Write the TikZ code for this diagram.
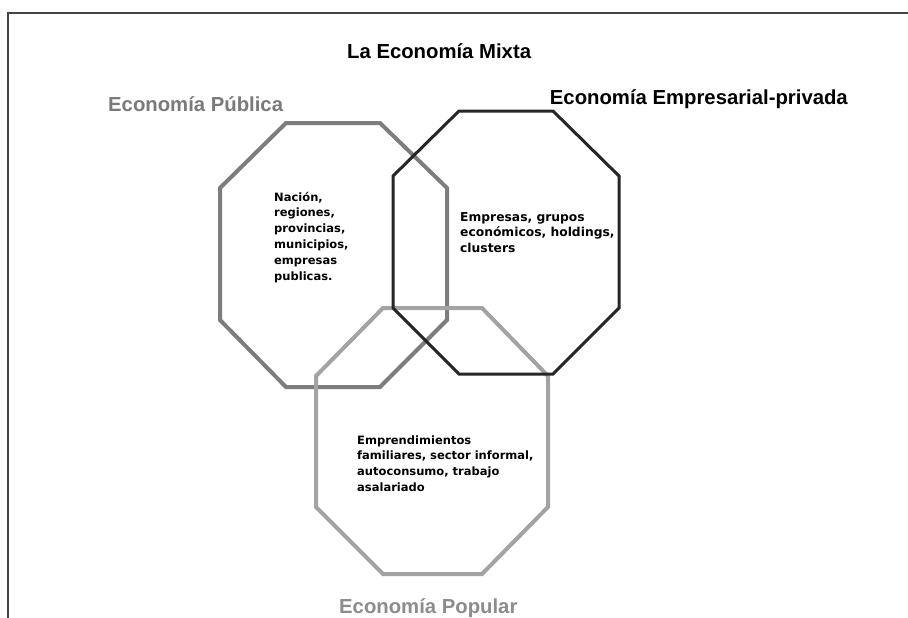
\documentclass[tikz,border=0pt]{standalone}
\usepackage{fontspec}
\setmainfont{Liberation Sans}
\newfontfamily\bodyfont{DejaVu Sans}
\definecolor{framec}{HTML}{444444}
\definecolor{pubc}{HTML}{7D7D7D}
\definecolor{popc}{HTML}{A3A3A3}
\definecolor{privc}{HTML}{262626}
\definecolor{pubtxt}{HTML}{7A7A7A}
\definecolor{poptxt}{HTML}{8C8C8C}
\tikzset{
  octpub/.style={draw=pubc, line width=4pt, line join=miter},
  octpop/.style={draw=popc, line width=4pt, line join=miter},
  octpriv/.style={draw=privc, line width=3pt, line join=miter},
  titletxt/.style={inner sep=0pt, font=\fontsize{20.3}{24}\selectfont\bfseries},
  bodytxt/.style={inner sep=0pt, anchor=base west},
}
\newcommand\bodyblock[2]{\parbox[t]{9cm}{\bodyfont\bfseries\fontsize{#1}{15.8}\selectfont\raggedright #2}}
\begin{document}
\begin{tikzpicture}[x=1pt,y=-1pt]
\useasboundingbox (0,0) rectangle (908,618);
\fill[white] (0,0) rectangle (908,618);
% frame
\coordinate (fbl) at (8,618);
\coordinate (ftl) at (8,13);
\coordinate (ftr) at (908,13);
\draw[framec, line width=2pt] (fbl) -- (ftl) -- (ftr);
% octagons
\draw[octpub] (286,123) -- (380,123) -- (447,188) -- (447,320) -- (380,387) -- (286,387) -- (220,320) -- (220,188) -- cycle;
\draw[octpop] (383,308) -- (482,308) -- (548,376) -- (548,507) -- (482,574) -- (383,574) -- (316,507) -- (316,376) -- cycle;
\draw[octpriv] (459,111) -- (553,111) -- (619,176) -- (619,308) -- (553,374) -- (459,374) -- (393,308) -- (393,176) -- cycle;
% titles
\node[titletxt, anchor=base west] (mixta) at (347,59) {La Economía Mixta};
\node[titletxt, anchor=base west, text=pubtxt] (publica) at (108,111) {Economía Pública};
\node[titletxt, anchor=base east] (privada) at (848,104) {Economía Empresarial-privada};
\node[titletxt, anchor=base west, text=poptxt] (popular) at (339,613) {Economía Popular};
% body texts
\node[bodytxt] (pubtext) at (274,201) {\bodyblock{11.5}{Nación,\\regiones,\\provincias,\\municipios,\\empresas\\publicas.}};
\node[bodytxt] (privtext) at (460,221) {\bodyblock{12.3}{Empresas, grupos\\económicos, holdings,\\clusters}};
\node[bodytxt] (poptext) at (357,444) {\bodyblock{11.5}{Emprendimientos\\familiares, sector informal,\\autoconsumo, trabajo\\asalariado}};
\end{tikzpicture}
\end{document}
